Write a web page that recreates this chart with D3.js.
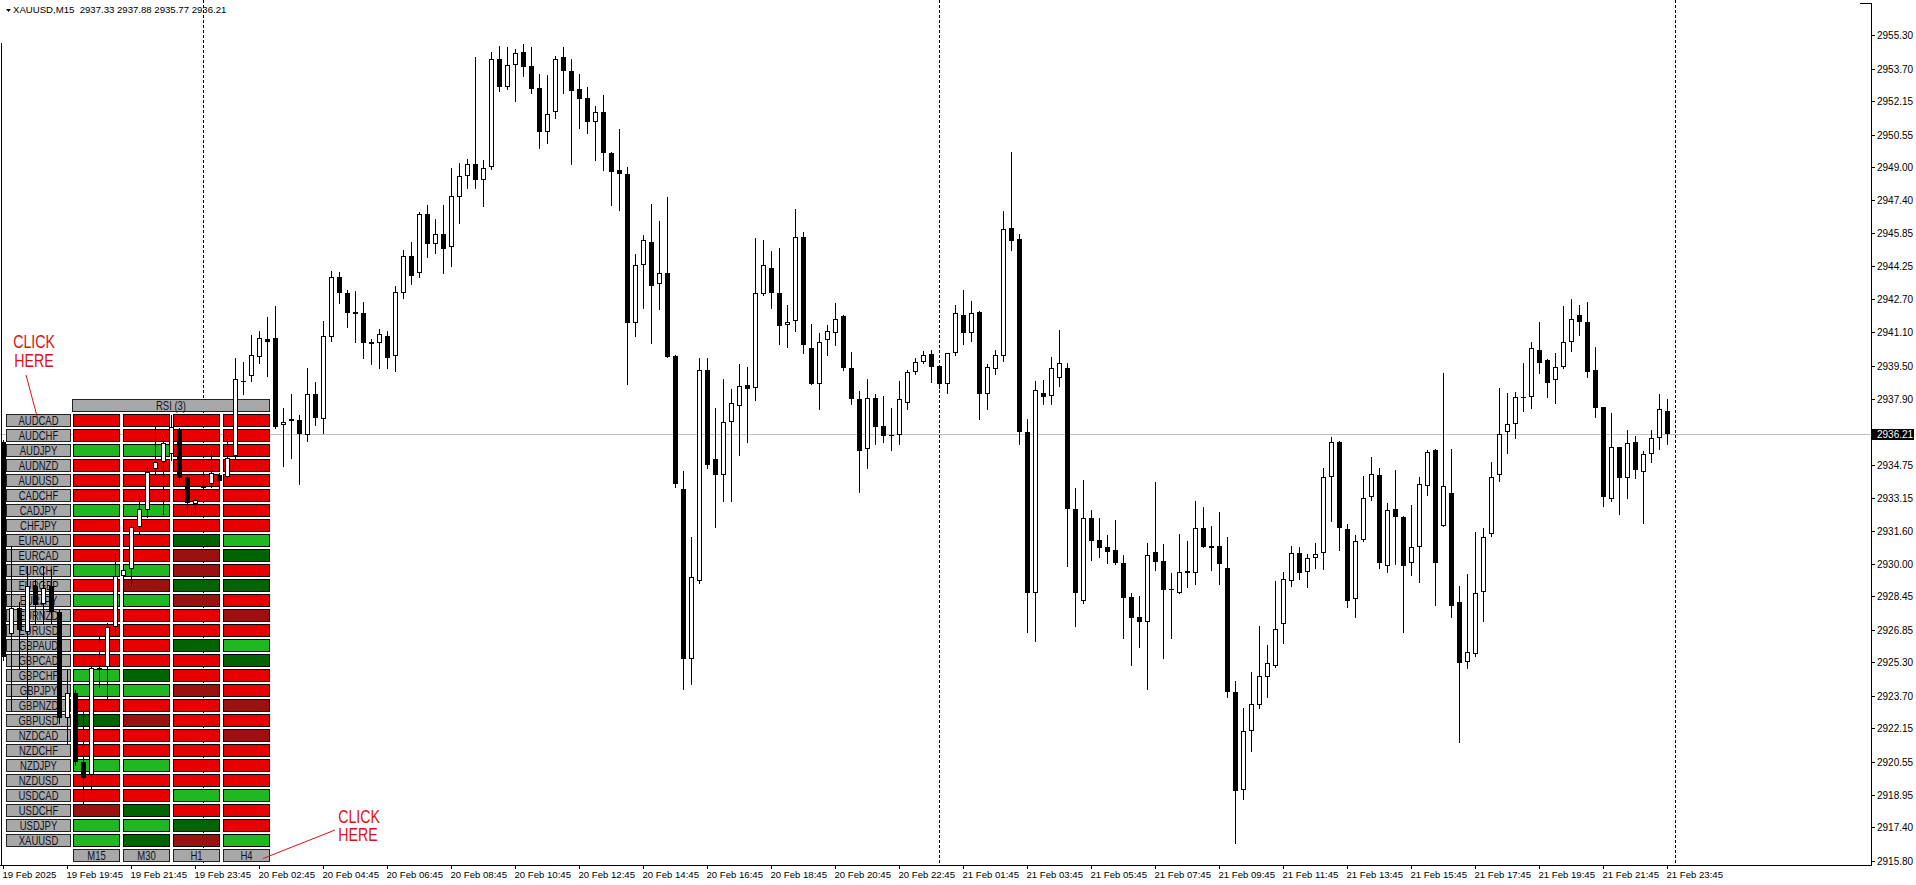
<!DOCTYPE html>
<html>
<head>
<meta charset="utf-8">
<script src="https://cdn.jsdelivr.net/npm/d3@7"></script>
<style>
  html, body { margin: 0; padding: 0; background: #fff; overflow: hidden; }
  svg { display: block; font-family: "Liberation Sans", Arial, sans-serif; }
</style>
</head>
<body>
<svg id="chart"></svg>
<script>
// XAUUSD M15 candles, bar 0 = 19 Feb 17:45 ... bar 208 = 21 Feb 23:45
const opens = [
  2935.82, 2926.65, 2927.90, 2926.76, 2928.93, 2928.07, 2928.93, 2927.70, 2922.66, 2923.85,
  2920.52, 2919.92, 2925.05, 2925.10, 2926.98, 2929.44, 2929.75, 2931.76, 2932.57, 2934.53,
  2934.88, 2935.27, 2936.41, 2934.19, 2932.86, 2933.63, 2933.82, 2934.26, 2934.16, 2935.18,
  2938.75, 2938.98, 2939.93, 2940.77, 2940.82, 2936.65, 2936.84, 2936.88, 2936.16, 2938.16,
  2936.93, 2940.85, 2943.72, 2942.95, 2942.04, 2941.99, 2940.51, 2940.59, 2940.91, 2939.98,
  2942.95, 2944.75, 2943.91, 2946.73, 2945.30, 2945.77, 2945.18, 2947.58, 2948.58, 2949.12,
  2948.40, 2948.98, 2954.19, 2952.81, 2953.86, 2954.48, 2953.83, 2952.76, 2950.69, 2951.61,
  2954.24, 2953.59, 2952.71, 2952.28, 2951.13, 2951.61, 2949.65, 2948.85, 2948.66, 2941.55,
  2944.29, 2945.39, 2943.38, 2943.91, 2939.95, 2933.60, 2925.48, 2929.21, 2939.27, 2935.01,
  2934.28, 2936.79, 2937.58, 2938.57, 2938.41, 2942.91, 2944.19, 2942.99, 2941.46, 2941.63,
  2945.64, 2940.35, 2938.64, 2940.74, 2941.08, 2941.87, 2939.37, 2937.90, 2935.51, 2937.95,
  2936.59, 2936.16, 2936.16, 2937.70, 2939.18, 2939.66, 2940.06, 2939.46, 2938.64, 2940.09,
  2941.92, 2941.08, 2942.06, 2938.16, 2939.32, 2939.97, 2946.07, 2945.56, 2936.30, 2928.60,
  2938.20, 2938.05, 2938.90, 2939.40, 2932.62, 2928.25, 2932.19, 2931.15, 2930.80, 2930.68,
  2930.04, 2928.41, 2927.45, 2927.25, 2930.56, 2930.15, 2928.80, 2928.60, 2929.67, 2929.56,
  2931.71, 2930.76, 2930.87, 2929.80, 2923.90, 2919.19, 2922.02, 2923.26, 2924.58, 2925.14,
  2927.12, 2929.21, 2930.52, 2929.61, 2930.28, 2930.52, 2934.19, 2935.83, 2931.68, 2928.32,
  2931.15, 2933.19, 2934.26, 2929.92, 2932.62, 2932.23, 2930.03, 2930.83, 2933.75, 2935.46,
  2931.84, 2933.38, 2928.17, 2925.30, 2925.68, 2928.65, 2931.42, 2934.26, 2936.30, 2936.68,
  2937.98, 2937.98, 2940.22, 2939.75, 2938.81, 2939.41, 2940.61, 2941.92, 2941.56, 2939.28,
  2937.50, 2933.10, 2935.58, 2934.13, 2935.86, 2934.42, 2935.25, 2936.05, 2937.33
];
const highs = [
  2935.95, 2930.86, 2928.21, 2929.92, 2929.24, 2929.92, 2929.75, 2927.80, 2924.96, 2924.00,
  2923.17, 2925.10, 2926.67, 2927.18, 2930.52, 2929.92, 2931.80, 2933.34, 2934.74, 2936.55,
  2936.04, 2937.13, 2936.50, 2934.28, 2933.25, 2934.36, 2935.47, 2934.36, 2935.99, 2939.86,
  2939.69, 2940.94, 2941.16, 2941.80, 2942.36, 2937.47, 2938.16, 2937.13, 2939.40, 2938.72,
  2941.62, 2944.04, 2943.96, 2943.11, 2943.06, 2942.52, 2940.75, 2941.25, 2941.15, 2943.30,
  2945.02, 2945.39, 2946.83, 2947.18, 2946.49, 2947.18, 2948.93, 2949.17, 2949.36, 2954.24,
  2949.33, 2954.48, 2954.78, 2954.72, 2954.63, 2954.86, 2954.72, 2953.44, 2953.40, 2954.31,
  2954.75, 2954.19, 2953.44, 2952.81, 2951.91, 2952.44, 2949.70, 2950.81, 2949.01, 2944.83,
  2945.74, 2947.22, 2946.41, 2947.54, 2940.00, 2934.45, 2931.32, 2939.88, 2939.88, 2937.48,
  2938.86, 2938.38, 2939.58, 2939.44, 2945.61, 2945.51, 2944.96, 2945.13, 2942.40, 2947.01,
  2945.87, 2941.49, 2941.08, 2941.46, 2942.48, 2941.92, 2940.14, 2938.30, 2938.86, 2938.12,
  2938.04, 2937.48, 2938.76, 2939.27, 2939.88, 2940.18, 2940.26, 2939.50, 2940.10, 2942.40,
  2943.11, 2942.57, 2942.10, 2939.58, 2940.26, 2946.87, 2949.74, 2945.78, 2936.93, 2938.76,
  2938.81, 2939.90, 2941.20, 2939.60, 2933.63, 2934.03, 2932.59, 2932.22, 2931.39, 2932.11,
  2930.44, 2928.60, 2928.47, 2931.00, 2933.91, 2930.96, 2929.59, 2931.43, 2931.11, 2933.02,
  2932.72, 2931.82, 2932.48, 2931.28, 2924.41, 2923.10, 2924.82, 2927.04, 2926.13, 2929.19,
  2929.61, 2930.87, 2930.80, 2930.49, 2930.99, 2934.58, 2936.07, 2935.89, 2931.90, 2931.39,
  2934.21, 2935.11, 2934.58, 2932.90, 2934.50, 2932.30, 2932.82, 2934.18, 2935.46, 2935.50,
  2939.12, 2935.50, 2928.95, 2929.52, 2931.55, 2931.71, 2934.87, 2938.41, 2938.17, 2938.22,
  2939.60, 2940.61, 2941.56, 2939.80, 2940.08, 2942.35, 2942.68, 2942.39, 2942.52, 2940.37,
  2937.50, 2937.21, 2935.60, 2936.41, 2936.13, 2935.41, 2936.41, 2938.14, 2937.88
];
const lows = [
  2925.40, 2922.99, 2924.96, 2923.60, 2927.18, 2927.18, 2927.18, 2922.40, 2921.37, 2920.40,
  2918.56, 2919.15, 2924.11, 2923.34, 2926.59, 2928.55, 2928.98, 2931.42, 2932.23, 2934.28,
  2932.40, 2935.00, 2934.00, 2932.48, 2932.40, 2933.51, 2933.68, 2933.51, 2934.10, 2935.10,
  2938.16, 2938.77, 2939.63, 2939.01, 2936.50, 2934.67, 2935.08, 2933.85, 2935.90, 2936.67,
  2936.28, 2940.69, 2942.47, 2941.32, 2940.61, 2939.87, 2939.55, 2939.36, 2939.36, 2939.25,
  2942.71, 2943.40, 2943.75, 2944.71, 2944.90, 2943.91, 2944.27, 2946.33, 2948.01, 2948.01,
  2947.15, 2948.90, 2952.65, 2952.75, 2952.17, 2953.37, 2952.52, 2949.89, 2950.13, 2951.36,
  2952.52, 2949.12, 2950.88, 2950.64, 2949.33, 2948.85, 2947.18, 2946.94, 2938.64, 2940.93,
  2942.26, 2940.59, 2942.20, 2939.90, 2933.70, 2924.03, 2924.28, 2929.10, 2934.59, 2931.77,
  2933.03, 2933.03, 2935.22, 2935.85, 2937.87, 2942.87, 2942.23, 2940.55, 2940.40, 2941.17,
  2940.12, 2938.60, 2937.44, 2940.00, 2940.48, 2939.30, 2937.66, 2933.46, 2934.62, 2935.77,
  2935.85, 2935.44, 2935.73, 2937.41, 2939.10, 2939.60, 2938.69, 2938.42, 2938.21, 2940.00,
  2940.52, 2940.69, 2936.93, 2937.44, 2939.10, 2939.70, 2945.05, 2935.77, 2926.76, 2926.34,
  2937.65, 2937.65, 2938.50, 2929.93, 2927.06, 2928.16, 2930.20, 2930.36, 2930.04, 2930.00,
  2926.48, 2925.17, 2926.05, 2924.03, 2929.72, 2925.52, 2926.48, 2928.60, 2928.92, 2929.03,
  2930.80, 2929.72, 2929.05, 2923.66, 2916.67, 2918.76, 2921.07, 2923.10, 2923.66, 2925.10,
  2926.21, 2928.97, 2929.27, 2928.89, 2929.83, 2929.77, 2932.08, 2930.68, 2927.97, 2927.49,
  2931.10, 2933.06, 2929.83, 2929.63, 2930.00, 2926.76, 2929.48, 2929.16, 2933.30, 2928.04,
  2931.80, 2927.48, 2921.50, 2925.01, 2925.60, 2927.29, 2931.36, 2933.97, 2935.30, 2936.05,
  2937.32, 2937.48, 2939.16, 2938.01, 2937.69, 2939.36, 2940.19, 2940.96, 2938.97, 2937.05,
  2932.78, 2933.00, 2932.39, 2933.18, 2934.13, 2931.98, 2934.90, 2935.50, 2935.77
];
const closes = [
  2925.56, 2927.90, 2926.84, 2928.93, 2928.04, 2928.86, 2927.70, 2922.66, 2923.85, 2920.52,
  2919.75, 2925.05, 2924.96, 2926.98, 2929.44, 2929.71, 2931.76, 2932.62, 2934.40, 2934.88,
  2935.81, 2936.56, 2934.11, 2932.91, 2933.08, 2933.76, 2934.36, 2933.99, 2935.08, 2938.84,
  2938.72, 2940.00, 2940.82, 2940.65, 2936.58, 2936.82, 2936.93, 2936.21, 2938.12, 2937.01,
  2940.89, 2943.72, 2942.95, 2942.03, 2941.95, 2940.56, 2940.61, 2940.99, 2939.87, 2943.03,
  2944.75, 2943.80, 2946.73, 2945.30, 2945.77, 2945.06, 2947.62, 2948.58, 2949.12, 2948.40,
  2948.93, 2954.19, 2952.84, 2953.86, 2954.43, 2953.76, 2952.74, 2950.69, 2951.52, 2954.19,
  2953.60, 2952.65, 2952.26, 2951.16, 2951.61, 2949.68, 2948.77, 2948.66, 2941.55, 2944.29,
  2945.53, 2943.32, 2943.91, 2939.92, 2933.85, 2925.48, 2929.38, 2939.27, 2934.76, 2934.28,
  2936.79, 2937.70, 2938.52, 2938.40, 2942.96, 2944.31, 2942.99, 2941.41, 2941.59, 2945.64,
  2940.47, 2938.64, 2940.65, 2941.15, 2941.71, 2939.36, 2937.92, 2935.42, 2937.95, 2936.55,
  2936.11, 2936.11, 2937.90, 2939.18, 2939.66, 2940.00, 2939.44, 2938.60, 2940.09, 2942.00,
  2941.08, 2942.00, 2938.16, 2939.44, 2940.00, 2946.02, 2945.44, 2936.30, 2928.64, 2938.33,
  2938.00, 2939.40, 2939.60, 2932.62, 2928.60, 2932.19, 2931.12, 2930.79, 2930.60, 2930.04,
  2928.40, 2927.44, 2927.25, 2930.44, 2930.12, 2928.76, 2928.78, 2929.61, 2929.59, 2931.71,
  2930.84, 2930.87, 2929.99, 2923.90, 2919.16, 2922.02, 2923.31, 2924.65, 2925.25, 2926.90,
  2929.27, 2930.52, 2929.56, 2930.28, 2930.47, 2934.15, 2935.83, 2931.74, 2928.25, 2931.11,
  2933.14, 2934.29, 2930.03, 2932.59, 2932.27, 2929.92, 2930.83, 2933.81, 2935.38, 2930.07,
  2933.75, 2928.01, 2925.25, 2925.78, 2928.60, 2931.31, 2934.18, 2936.21, 2936.68, 2937.98,
  2937.97, 2940.35, 2939.63, 2938.65, 2939.41, 2940.61, 2941.74, 2941.60, 2939.20, 2937.48,
  2933.22, 2935.58, 2934.13, 2935.81, 2934.50, 2935.25, 2936.05, 2937.40, 2936.21
];

const priceTicks = [
  2955.30, 2953.70, 2952.15, 2950.55, 2949.00, 2947.40, 2945.85, 2944.25, 2942.70,
  2941.10, 2939.50, 2937.90, 2934.75, 2933.15, 2931.60, 2930.00, 2928.45, 2926.85,
  2925.30, 2923.70, 2922.15, 2920.55, 2918.95, 2917.40, 2915.80
];

// one label every 8 bars
const timeLabels = [
  "19 Feb 2025", "19 Feb 19:45", "19 Feb 21:45", "19 Feb 23:45", "20 Feb 02:45",
  "20 Feb 04:45", "20 Feb 06:45", "20 Feb 08:45", "20 Feb 10:45", "20 Feb 12:45",
  "20 Feb 14:45", "20 Feb 16:45", "20 Feb 18:45", "20 Feb 20:45", "20 Feb 22:45",
  "21 Feb 01:45", "21 Feb 03:45", "21 Feb 05:45", "21 Feb 07:45", "21 Feb 09:45",
  "21 Feb 11:45", "21 Feb 13:45", "21 Feb 15:45", "21 Feb 17:45", "21 Feb 19:45",
  "21 Feb 21:45", "21 Feb 23:45"
];
const dayStartBars = [25, 117, 209];

// RSI dashboard
const symbols = [
  "AUDCAD", "AUDCHF", "AUDJPY", "AUDNZD", "AUDUSD", "CADCHF", "CADJPY", "CHFJPY",
  "EURAUD", "EURCAD", "EURCHF", "EURGBP", "EURJPY", "EURNZD", "EURUSD", "GBPAUD",
  "GBPCAD", "GBPCHF", "GBPJPY", "GBPNZD", "GBPUSD", "NZDCAD", "NZDCHF", "NZDJPY",
  "NZDUSD", "USDCAD", "USDCHF", "USDJPY", "XAUUSD"
];
const timeframes = ["M15", "M30", "H1", "H4"];
// R red, G green, g dark green, r dark red  (M15 M30 H1 H4)
const rsiStates = [
  "RRRR", "RRRR", "GGRR", "RRRR", "RRRR", "RRRR", "GGRR", "RRRR",
  "RRgG", "RRrg", "GGrR", "Rrgg", "GGrR", "RRRr", "RRRR", "RRgG",
  "RRRg", "GgRR", "GGrR", "RRRr", "grRR", "RRRr", "RRRR", "GGRR",
  "RRRR", "RRGG", "rgRR", "GGgR", "GgrG"
];
const stateColor = { R: "#e80000", G: "#20b820", g: "#006400", r: "#9c1010" };

const W = 1916, H = 885;
const plotRight = 1871;
const axisY = 865;

const svg = d3.select("#chart").attr("width", W).attr("height", H);
svg.append("rect").attr("width", W).attr("height", H).attr("fill", "#fff");

const x = d3.scaleLinear().domain([0, 1]).range([3, 11]);   // pixel column of bar centre
const y = d3.scaleLinear().domain([2915.80, 2955.30]).range([860.9, 35.3]);

// Day separators
svg.append("g").selectAll("line")
  .data(dayStartBars)
  .join("line")
  .attr("x1", d => x(d) + 0.5).attr("x2", d => x(d) + 0.5)
  .attr("y1", 0).attr("y2", axisY)
  .attr("stroke", "#000")
  .attr("stroke-dasharray", "3,2")
  .attr("shape-rendering", "crispEdges");

// Bid line
const last = opens.length - 1;
const bidY = Math.round(y(closes[last])) + 0.5;
svg.append("line")
  .attr("x1", 0).attr("x2", plotRight)
  .attr("y1", bidY).attr("y2", bidY)
  .attr("stroke", "#c0c0c0")
  .attr("shape-rendering", "crispEdges");

// Frame / axes
const frame = svg.append("g").attr("stroke", "#000").attr("shape-rendering", "crispEdges");
frame.append("line").attr("x1", plotRight + 0.5).attr("x2", plotRight + 0.5).attr("y1", 3).attr("y2", axisY + 1);
frame.append("line").attr("x1", 1860).attr("x2", plotRight + 1).attr("y1", 3.5).attr("y2", 3.5);
frame.append("line").attr("x1", 0).attr("x2", plotRight + 1).attr("y1", axisY + 0.5).attr("y2", axisY + 0.5);
frame.append("line").attr("x1", 1.5).attr("x2", 1.5).attr("y1", 43).attr("y2", axisY);

// Price axis
const yAxis = svg.append("g");
priceTicks.forEach(v => {
  const yy = Math.round(y(v)) + 0.5;
  yAxis.append("line")
    .attr("x1", plotRight).attr("x2", plotRight + 4)
    .attr("y1", yy).attr("y2", yy)
    .attr("stroke", "#000").attr("shape-rendering", "crispEdges");
  yAxis.append("text")
    .attr("x", plotRight + 6).attr("y", yy + 3.5)
    .attr("font-size", "10px").attr("fill", "#000")
    .text(v.toFixed(2));
});
yAxis.append("rect")
  .attr("x", plotRight + 1).attr("y", bidY - 5.5)
  .attr("width", 42).attr("height", 11)
  .attr("fill", "#000");
yAxis.append("text")
  .attr("x", plotRight + 6).attr("y", bidY + 3.5)
  .attr("font-size", "10px").attr("fill", "#fff")
  .text(closes[last].toFixed(2));

// Time axis
const xAxis = svg.append("g");
timeLabels.forEach((t, i) => {
  const xx = x(i * 8) + 0.5;
  xAxis.append("line")
    .attr("x1", xx).attr("x2", xx)
    .attr("y1", axisY).attr("y2", axisY + 4)
    .attr("stroke", "#000").attr("shape-rendering", "crispEdges");
  xAxis.append("text")
    .attr("x", xx - 1).attr("y", axisY + 12.5)
    .attr("font-size", "9.6px").attr("fill", "#000")
    .text(t);
});

// Header
svg.append("path").attr("d", "M6,9 L11,9 L8.5,12 Z").attr("fill", "#000");
svg.append("text")
  .attr("x", 13).attr("y", 13)
  .attr("font-size", "9.6px").attr("fill", "#000")
  .style("white-space", "pre")
  .text(`XAUUSD,M15  ${opens[last].toFixed(2)} ${highs[last].toFixed(2)} ${lows[last].toFixed(2)} ${closes[last].toFixed(2)}`);

// Dashboard panel
const panel = svg.append("g").attr("shape-rendering", "crispEdges");
const rowTop = 414.5, rowPitch = 15, colLeft = 73.5, colPitch = 50;
const squeeze = (g, cx, base, txt, size) => g.append("text")
  .attr("transform", `translate(${cx},${base}) scale(0.76,1)`)
  .attr("text-anchor", "middle")
  .attr("font-size", size + "px")
  .attr("fill", "#10101c")
  .attr("shape-rendering", "auto")
  .text(txt);

panel.append("rect")
  .attr("x", 72.5).attr("y", 399.5).attr("width", 197).attr("height", 12)
  .attr("fill", "#a8a8a8").attr("stroke", "#222");
squeeze(panel, 171, 410.3, "RSI (3)", 12.5);

symbols.forEach((s, r) => {
  const top = rowTop + r * rowPitch;
  panel.append("rect")
    .attr("x", 6.5).attr("y", top).attr("width", 64).attr("height", 12)
    .attr("fill", "#a8a8a8").attr("stroke", "#222");
  squeeze(panel, 38.5, top + 10.9, s, 12.5);
  rsiStates[r].split("").forEach((st, c) => {
    panel.append("rect")
      .attr("x", colLeft + c * colPitch).attr("y", top)
      .attr("width", 46).attr("height", 12)
      .attr("fill", stateColor[st]).attr("stroke", "#000");
  });
});
const tfTop = rowTop + symbols.length * rowPitch;
timeframes.forEach((tf, c) => {
  panel.append("rect")
    .attr("x", colLeft + c * colPitch).attr("y", tfTop)
    .attr("width", 46).attr("height", 12)
    .attr("fill", "#a8a8a8").attr("stroke", "#222");
  squeeze(panel, colLeft + c * colPitch + 23, tfTop + 10.9, tf, 12.5);
});

// Candles
const bars = d3.range(opens.length).map(i => ({ i, o: opens[i], h: highs[i], l: lows[i], c: closes[i] }));
const gC = svg.append("g").attr("shape-rendering", "crispEdges");
gC.selectAll("line.wick")
  .data(bars)
  .join("line")
  .attr("class", "wick")
  .attr("x1", d => x(d.i) + 0.5).attr("x2", d => x(d.i) + 0.5)
  .attr("y1", d => Math.round(y(d.h))).attr("y2", d => Math.round(y(d.l)) + 1)
  .attr("stroke", "#000");

gC.selectAll("rect.body")
  .data(bars)
  .join("rect")
  .attr("class", "body")
  .each(function (d) {
    const top = Math.round(y(Math.max(d.o, d.c)));
    const bot = Math.round(y(Math.min(d.o, d.c)));
    const r = d3.select(this);
    if (d.c > d.o && bot - top >= 2) {
      r.attr("x", x(d.i) - 1.5).attr("y", top + 0.5)
        .attr("width", 4).attr("height", bot - top - 1)
        .attr("fill", "#fff").attr("stroke", "#000");
    } else {
      r.attr("x", x(d.i) - 2).attr("y", top)
        .attr("width", 5).attr("height", Math.max(1, bot - top))
        .attr("fill", "#000");
    }
  });

// Annotations
const note = svg.append("g").attr("fill", "#dd1111");
const redText = (cx, base, txt) => note.append("text")
  .attr("transform", `translate(${cx},${base}) scale(0.81,1)`)
  .attr("text-anchor", "middle")
  .attr("font-size", "17.5px")
  .text(txt);
redText(34, 348.3, "CLICK");
redText(34, 367, "HERE");
redText(359, 822.5, "CLICK");
redText(358, 841, "HERE");
note.append("line").attr("x1", 26).attr("y1", 375).attr("x2", 37.5).attr("y2", 418)
  .attr("stroke", "#dd1111");
note.append("line").attr("x1", 263).attr("y1", 858.5).attr("x2", 335).attr("y2", 830)
  .attr("stroke", "#dd1111");
</script>
</body>
</html>
